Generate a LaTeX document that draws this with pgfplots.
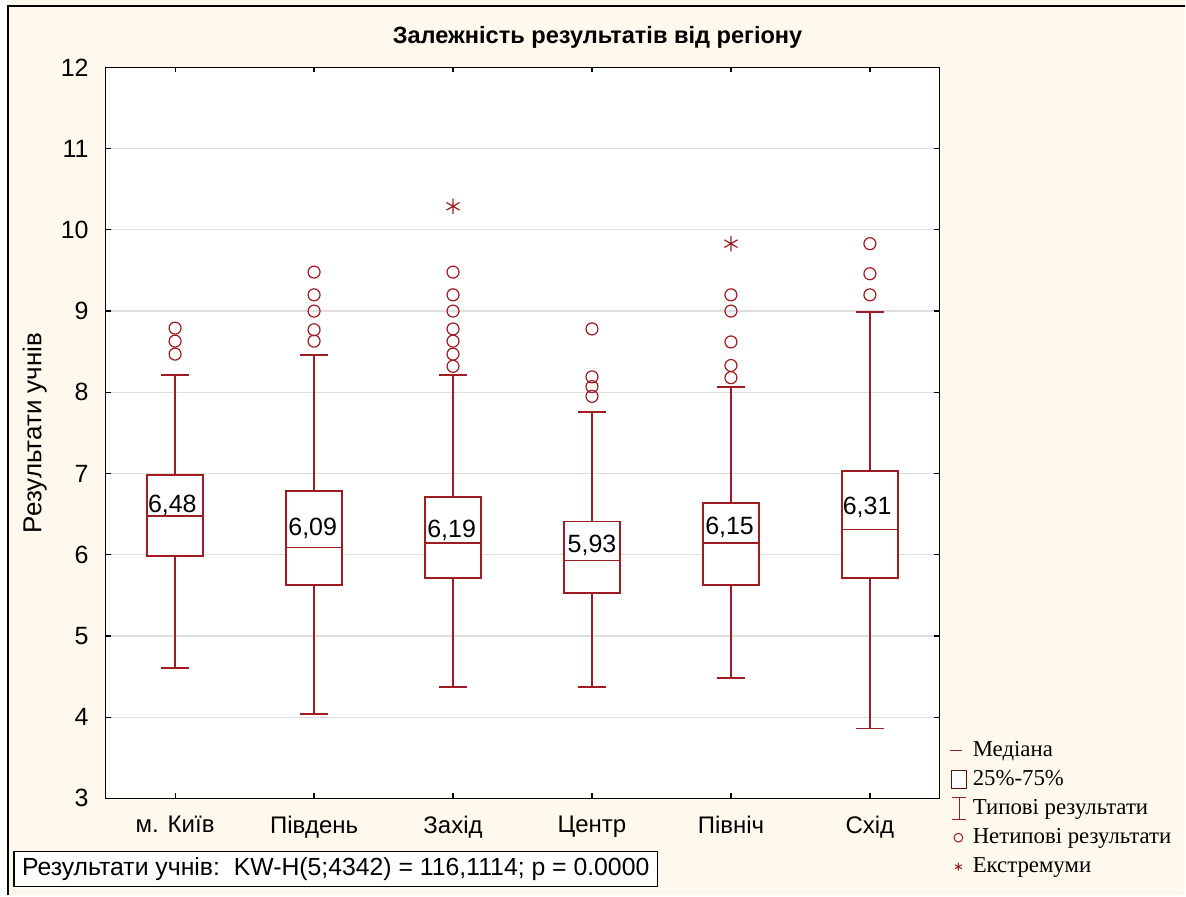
\documentclass[border=0pt]{standalone}
\usepackage{fontspec}
\setmainfont{Liberation Sans}
\newfontfamily\legendfont{Liberation Serif}
\usepackage{pgfplots}
\usepgfplotslibrary{statistics}
\pgfplotsset{compat=1.18}
\definecolor{boxred}{RGB}{158,28,34}
\definecolor{panel}{RGB}{255,249,237}

\begin{document}
\begin{tikzpicture}
% panel: 1 px of the 1186x896 picture = 0.5pt
\fill[panel] (0pt,0pt) rectangle (593pt,448pt);
\fill[white] (0pt,0pt) rectangle (4pt,448pt);
\draw[line width=0.9pt] (4pt,0pt) -- (4pt,445pt) -- (593pt,445pt);

\node[font=\bfseries\fontsize{11.8}{14}\selectfont] at (299pt,429.5pt) {Залежність результатів від регіону};

\begin{axis}[
  at={(52.85pt,48.5pt)}, anchor=south west,
  width=417.2pt, height=365.75pt, scale only axis,
  xmin=-0.5, xmax=5.5, ymin=3, ymax=12,
  xtick={0,...,5},
  xticklabels={м. Київ, Південь, Захід, Центр, Північ, Схід},
  ytick={3,...,12},
  tick align=inside, xtick pos=both, ytick pos=both, ticklabel pos=left,
  major tick length=2.5pt,
  every tick/.style={black, line width=0.6pt},
  axis line style={line width=0.8pt},
  ymajorgrids, grid style={draw=black!13, line width=0.6pt},
  axis background/.style={fill=white},
  /pgf/number format/assume math mode=true,
  yticklabel style={font=\fontsize{12.5}{14}\selectfont, xshift=-5pt},
  xticklabel style={font=\fontsize{12}{14}\selectfont, yshift=-5.5pt},
  ylabel={Результати учнів},
  ylabel style={font=\fontsize{13}{15}\selectfont, at={(axis description cs:-0.085,0.5)}, anchor=center},
  boxplot/draw direction=y,
  boxplot/box extend=0.4, boxplot/whisker extend=0.2,
  boxplot/every box/.style={draw=boxred, fill=white, line width=0.9pt},
  boxplot/every median/.style={draw=boxred, line width=0.9pt},
  boxplot/every whisker/.style={draw=boxred, line width=0.9pt},
  clip=false,
  legend style={draw=none, fill=none, at={(1.012,0.084)}, anchor=north west,
    font=\legendfont\fontsize{11.4}{13}\selectfont, inner sep=0pt, row sep=1.5pt,
    /tikz/every even column/.style={column sep=0pt}},
  legend cell align=left,
]
% median labels
\tikzset{mlab/.style={anchor=base, font=\fontsize{12.5}{14}\selectfont, inner sep=0pt}}

\addplot[boxred, line width=0.9pt, forget plot, boxplot prepared={draw position=0,
  lower whisker=4.61, lower quartile=5.98, median=6.48, upper quartile=6.98, upper whisker=8.21}] coordinates {};
\addplot[boxred, line width=0.9pt, forget plot, boxplot prepared={draw position=1,
  lower whisker=4.04, lower quartile=5.63, median=6.09, upper quartile=6.78, upper whisker=8.46}] coordinates {};
\addplot[boxred, line width=0.9pt, forget plot, boxplot prepared={draw position=2,
  lower whisker=4.37, lower quartile=5.71, median=6.14, upper quartile=6.71, upper whisker=8.21}] coordinates {};
\addplot[boxred, line width=0.9pt, forget plot, boxplot prepared={draw position=3,
  lower whisker=4.37, lower quartile=5.53, median=5.93, upper quartile=6.41, upper whisker=7.76}] coordinates {};
\addplot[boxred, line width=0.9pt, forget plot, boxplot prepared={draw position=4,
  lower whisker=4.48, lower quartile=5.63, median=6.14, upper quartile=6.64, upper whisker=8.07}] coordinates {};
\addplot[boxred, line width=0.9pt, forget plot, boxplot prepared={draw position=5,
  lower whisker=3.86, lower quartile=5.71, median=6.31, upper quartile=7.03, upper whisker=8.99}] coordinates {};

% outliers
\addplot[only marks, mark=o, mark size=3pt, boxred, mark options={line width=0.6pt}, forget plot] coordinates {
  (0,8.47) (0,8.63) (0,8.79)
  (1,8.63) (1,8.77) (1,9.00) (1,9.20) (1,9.48)
  (2,8.32) (2,8.47) (2,8.63) (2,8.78) (2,9.00) (2,9.20) (2,9.48)
  (3,7.95) (3,8.07) (3,8.19) (3,8.78)
  (4,8.18) (4,8.33) (4,8.62) (4,9.00) (4,9.20)
  (5,9.20) (5,9.46) (5,9.83)
};
% extremes
\addplot[only marks, mark=asterisk, mark size=3.8pt, boxred, mark options={line width=0.6pt}, forget plot] coordinates {
  (2,10.29) (4,9.83)
};

\node[mlab] at (axis cs:-0.02,6.52) {6,48};
\node[mlab] at (axis cs:0.99,6.24) {6,09};
\node[mlab] at (axis cs:1.99,6.21) {6,19};
\node[mlab] at (axis cs:3.0,6.03) {5,93};
\node[mlab] at (axis cs:3.99,6.25) {6,15};
\node[mlab] at (axis cs:4.98,6.50) {6,31};

% legend
\addlegendimage{legend image code/.code={\draw[boxred, line width=0.6pt] (0pt,0pt) -- (6pt,0pt);}}
\addlegendentry{Медіана}
\addlegendimage{legend image code/.code={\draw[boxred!55!black, line width=0.5pt, fill=white] (0.5pt,-4.5pt) rectangle (8pt,4.5pt);}}
\addlegendentry{25\%-75\%}
\addlegendimage{legend image code/.code={\draw[boxred, line width=0.6pt] (1pt,-5.5pt) -- (8pt,-5.5pt) (4.5pt,-5.5pt) -- (4.5pt,5.5pt) (1pt,5.5pt) -- (8pt,5.5pt);}}
\addlegendentry{Типові результати}
\addlegendimage{legend image code/.code={\draw[boxred, line width=0.5pt] (4pt,0pt) circle (2.2pt); \path (0pt,0pt) (9pt,0pt);}}
\addlegendentry{Нетипові результати}
\addlegendimage{legend image code/.code={\path (0pt,0pt) (9pt,0pt); \pgfsetlinewidth{0.5pt}\color{boxred}\pgftransformshift{\pgfpoint{4pt}{0pt}}\pgfuseplotmark{asterisk}}}
\addlegendentry{Екстремуми}
\end{axis}

\node[draw, line width=0.6pt, fill=white, font=\fontsize{12.4}{14}\selectfont, minimum width=322pt, minimum height=17.5pt, inner sep=2pt] at (168pt,13.25pt)
  {Результати учнів:\ \ KW-H(5;4342) = 116,1114; p = 0.0000};
\end{tikzpicture}
\end{document}
